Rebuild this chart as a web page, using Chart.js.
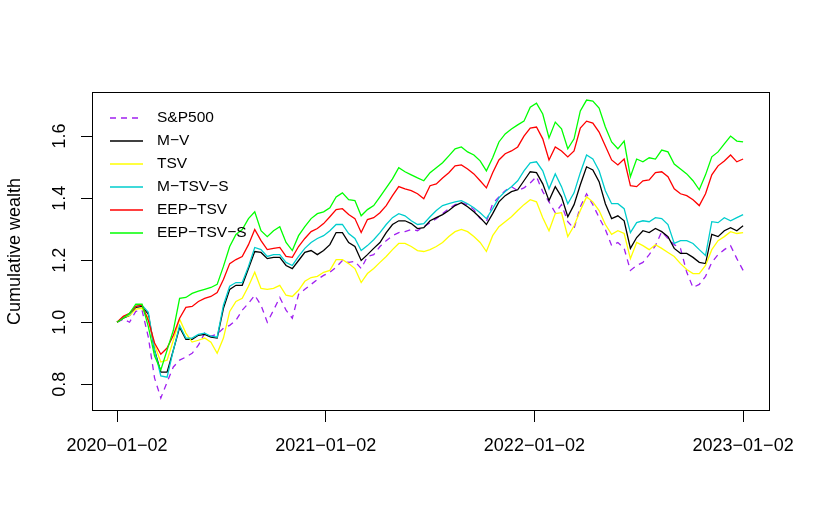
<!DOCTYPE html>
<html>
<head>
<meta charset="utf-8">
<script src="https://cdn.jsdelivr.net/npm/chart.js@4.4.1/dist/chart.umd.min.js"></script>
<style>
  html, body { margin: 0; padding: 0; background: #fff; }
  canvas { display: block; }
</style>
</head>
<body>
<canvas id="wealthChart" width="817" height="526"></canvas>
<script>
// sample times, in years after 2020-01-02
const sampleYears = [
  0.00, 0.03, 0.06, 0.09, 0.12, 0.15, 0.18, 0.21, 0.24, 0.27,
  0.30, 0.33, 0.36, 0.39, 0.42, 0.45, 0.48, 0.51, 0.54, 0.57,
  0.60, 0.63, 0.66, 0.69, 0.72, 0.75, 0.78, 0.81, 0.84, 0.87,
  0.90, 0.93, 0.96, 0.99, 1.02, 1.05, 1.08, 1.11, 1.14, 1.17,
  1.20, 1.23, 1.26, 1.29, 1.32, 1.35, 1.38, 1.41, 1.44, 1.47,
  1.50, 1.53, 1.56, 1.59, 1.62, 1.65, 1.68, 1.71, 1.74, 1.77,
  1.80, 1.83, 1.86, 1.89, 1.92, 1.95, 1.98, 2.01, 2.04, 2.07,
  2.10, 2.13, 2.16, 2.19, 2.22, 2.25, 2.28, 2.31, 2.34, 2.37,
  2.40, 2.43, 2.46, 2.49, 2.52, 2.55, 2.58, 2.61, 2.64, 2.67,
  2.70, 2.73, 2.76, 2.79, 2.82, 2.85, 2.88, 2.91, 2.94, 2.97,
  3.00
];

const sp500 = [
  1.000, 1.010, 1.000, 1.035, 1.039, 0.952, 0.820, 0.756, 0.807, 0.856,
  0.878, 0.888, 0.900, 0.926, 0.965, 0.955, 0.961, 0.981, 0.990, 1.006,
  1.039, 1.061, 1.087, 1.055, 1.000, 1.039, 1.080, 1.039, 1.013, 1.090,
  1.106, 1.122, 1.138, 1.151, 1.161, 1.177, 1.199, 1.193, 1.196, 1.173,
  1.212, 1.218, 1.244, 1.263, 1.279, 1.289, 1.292, 1.299, 1.295, 1.308,
  1.321, 1.334, 1.350, 1.366, 1.379, 1.385, 1.379, 1.363, 1.334, 1.324,
  1.382, 1.404, 1.424, 1.437, 1.424, 1.433, 1.449, 1.469, 1.421, 1.388,
  1.353, 1.379, 1.324, 1.302, 1.372, 1.414, 1.379, 1.337, 1.299, 1.247,
  1.257, 1.238, 1.167, 1.183, 1.193, 1.218, 1.247, 1.292, 1.270, 1.250,
  1.238, 1.161, 1.112, 1.122, 1.148, 1.193, 1.218, 1.234, 1.247, 1.205,
  1.167
];

const mv = [
  1.000, 1.013, 1.022, 1.048, 1.051, 1.026, 0.910, 0.839, 0.839, 0.910,
  0.984, 0.945, 0.945, 0.958, 0.961, 0.952, 0.949, 1.045, 1.106, 1.119,
  1.119, 1.173, 1.228, 1.225, 1.205, 1.209, 1.209, 1.183, 1.173, 1.199,
  1.225, 1.231, 1.218, 1.231, 1.250, 1.289, 1.289, 1.257, 1.244, 1.199,
  1.218, 1.238, 1.257, 1.289, 1.315, 1.327, 1.327, 1.318, 1.302, 1.305,
  1.327, 1.337, 1.347, 1.360, 1.376, 1.385, 1.372, 1.356, 1.337, 1.315,
  1.350, 1.388, 1.408, 1.421, 1.427, 1.456, 1.485, 1.482, 1.446, 1.392,
  1.437, 1.404, 1.340, 1.379, 1.443, 1.501, 1.491, 1.453, 1.382, 1.334,
  1.343, 1.327, 1.238, 1.273, 1.295, 1.289, 1.302, 1.292, 1.276, 1.238,
  1.222, 1.222, 1.209, 1.193, 1.189, 1.283, 1.276, 1.295, 1.305, 1.295,
  1.311
];

const tsv = [
  1.000, 1.016, 1.022, 1.042, 1.045, 1.013, 0.926, 0.872, 0.878, 0.942,
  1.010, 0.965, 0.936, 0.942, 0.949, 0.936, 0.900, 0.949, 1.035, 1.067,
  1.077, 1.116, 1.161, 1.109, 1.106, 1.109, 1.119, 1.087, 1.083, 1.103,
  1.132, 1.144, 1.148, 1.161, 1.167, 1.202, 1.202, 1.189, 1.173, 1.128,
  1.157, 1.173, 1.193, 1.212, 1.234, 1.254, 1.254, 1.244, 1.231, 1.228,
  1.234, 1.244, 1.257, 1.276, 1.292, 1.299, 1.292, 1.276, 1.257, 1.228,
  1.279, 1.308, 1.324, 1.340, 1.360, 1.379, 1.395, 1.388, 1.337, 1.295,
  1.350, 1.353, 1.276, 1.311, 1.360, 1.404, 1.388, 1.360, 1.315, 1.283,
  1.295, 1.286, 1.205, 1.257, 1.247, 1.234, 1.250, 1.238, 1.225, 1.212,
  1.189, 1.170, 1.157, 1.157, 1.183, 1.234, 1.263, 1.276, 1.292, 1.286,
  1.289
];

const mTsvS = [
  1.000, 1.016, 1.026, 1.051, 1.055, 1.032, 0.910, 0.827, 0.823, 0.910,
  0.990, 0.949, 0.949, 0.961, 0.965, 0.955, 0.952, 1.055, 1.116, 1.128,
  1.128, 1.180, 1.241, 1.234, 1.212, 1.218, 1.218, 1.193, 1.183, 1.212,
  1.238, 1.257, 1.270, 1.279, 1.295, 1.315, 1.315, 1.286, 1.270, 1.231,
  1.247, 1.266, 1.289, 1.315, 1.337, 1.350, 1.343, 1.327, 1.315, 1.318,
  1.340, 1.360, 1.376, 1.382, 1.388, 1.392, 1.382, 1.369, 1.353, 1.334,
  1.366, 1.401, 1.421, 1.437, 1.456, 1.488, 1.514, 1.517, 1.488, 1.430,
  1.478, 1.437, 1.382, 1.417, 1.482, 1.539, 1.526, 1.488, 1.424, 1.382,
  1.382, 1.366, 1.289, 1.321, 1.327, 1.324, 1.337, 1.334, 1.315, 1.254,
  1.263, 1.263, 1.254, 1.234, 1.215, 1.324, 1.321, 1.337, 1.327, 1.337,
  1.347
];

const eepTsv = [
  1.000, 1.019, 1.029, 1.051, 1.055, 1.006, 0.933, 0.897, 0.917, 0.958,
  1.013, 1.048, 1.051, 1.067, 1.077, 1.083, 1.096, 1.138, 1.189, 1.202,
  1.212, 1.250, 1.299, 1.263, 1.234, 1.238, 1.241, 1.212, 1.209, 1.244,
  1.270, 1.292, 1.302, 1.318, 1.340, 1.363, 1.366, 1.347, 1.334, 1.289,
  1.331, 1.337, 1.353, 1.376, 1.408, 1.437, 1.430, 1.424, 1.414, 1.398,
  1.440, 1.446, 1.465, 1.482, 1.504, 1.507, 1.494, 1.478, 1.456, 1.433,
  1.482, 1.523, 1.543, 1.552, 1.565, 1.600, 1.626, 1.629, 1.591, 1.523,
  1.565, 1.552, 1.533, 1.552, 1.626, 1.648, 1.642, 1.613, 1.568, 1.523,
  1.507, 1.526, 1.440, 1.437, 1.456, 1.459, 1.482, 1.485, 1.469, 1.430,
  1.414, 1.408, 1.395, 1.376, 1.414, 1.475, 1.504, 1.520, 1.539, 1.517,
  1.526
];

const eepTsvS = [
  1.000, 1.013, 1.029, 1.058, 1.058, 0.987, 0.891, 0.846, 0.910, 0.974,
  1.077, 1.080, 1.093, 1.100, 1.106, 1.112, 1.122, 1.180, 1.244, 1.283,
  1.299, 1.334, 1.356, 1.295, 1.276, 1.295, 1.308, 1.257, 1.231, 1.279,
  1.308, 1.334, 1.350, 1.356, 1.369, 1.404, 1.417, 1.395, 1.392, 1.343,
  1.363, 1.376, 1.404, 1.433, 1.462, 1.498, 1.485, 1.475, 1.465, 1.456,
  1.482, 1.498, 1.514, 1.536, 1.559, 1.565, 1.549, 1.539, 1.520, 1.488,
  1.530, 1.581, 1.607, 1.623, 1.636, 1.648, 1.693, 1.706, 1.671, 1.594,
  1.645, 1.623, 1.559, 1.591, 1.681, 1.716, 1.713, 1.690, 1.629, 1.581,
  1.559, 1.584, 1.469, 1.526, 1.517, 1.530, 1.526, 1.555, 1.549, 1.510,
  1.494, 1.478, 1.456, 1.427, 1.475, 1.533, 1.549, 1.575, 1.600, 1.584,
  1.581
];

const seriesNames = ['S&P500', 'M\u2212V', 'TSV', 'M\u2212TSV\u2212S', 'EEP\u2212TSV', 'EEP\u2212TSV\u2212S'];
const xTickValues = [0, 1, 2, 3];
const xTickLabels = ['2020\u221201\u221202', '2021\u221201\u221202', '2022\u221201\u221202', '2023\u221201\u221202'];
const yTickValues = [0.8, 1.0, 1.2, 1.4, 1.6];
const yTickLabels = ['0.8', '1.0', '1.2', '1.4', '1.6'];

const FONT = '"Liberation Sans", Arial, Helvetica, sans-serif';
const colors = ['#A020F0', '#000000', '#FFFF00', '#00CDCD', '#FF0000', '#00FF00'];
const allSeries = [sp500, mv, tsv, mTsvS, eepTsv, eepTsvS];

const pts = vals => vals.map((v, i) => ({ x: sampleYears[i], y: v }));

const datasets = allSeries.map((vals, i) => ({
  label: seriesNames[i],
  data: pts(vals),
  borderColor: colors[i],
  borderWidth: 1.3,
  borderDash: i === 0 ? [6, 5] : [],
  pointRadius: 0,
  tension: 0,
  fill: false,
  order: allSeries.length - i   // later series drawn on top, like R
}));

// box round the plot, rotated y tick labels and the legend inside the plot
const rStyle = {
  id: 'rStyle',
  afterDatasetsDraw(chart) {
    const { ctx, chartArea: a, scales } = chart;
    ctx.save();
    ctx.strokeStyle = '#000';
    ctx.lineWidth = 1;
    ctx.setLineDash([]);
    ctx.strokeRect(a.left + 0.5, a.top + 0.5, a.right - a.left - 1, a.bottom - a.top - 1);

    ctx.fillStyle = '#000';
    ctx.font = '18px ' + FONT;
    ctx.textAlign = 'center';
    ctx.textBaseline = 'middle';
    scales.y.ticks.forEach((t, i) => {
      ctx.save();
      ctx.translate(a.left - 32, scales.y.getPixelForValue(t.value));
      ctx.rotate(-Math.PI / 2);
      ctx.fillText(yTickLabels[i], 0, 0);
      ctx.restore();
    });

    ctx.font = '15.5px ' + FONT;
    ctx.textAlign = 'left';
    chart.data.datasets.forEach((ds, i) => {
      const ly = a.top + 26 + 23 * i;
      ctx.strokeStyle = ds.borderColor;
      ctx.lineWidth = ds.borderWidth;
      ctx.setLineDash(ds.borderDash);
      ctx.beginPath();
      ctx.moveTo(a.left + 18, ly);
      ctx.lineTo(a.left + 51, ly);
      ctx.stroke();
      ctx.setLineDash([]);
      ctx.fillText(ds.label, a.left + 65, ly);
    });
    ctx.restore();
  }
};

new Chart(document.getElementById('wealthChart'), {
  type: 'line',
  data: { datasets },
  plugins: [rStyle],
  options: {
    responsive: false,
    animation: false,
    events: [],
    layout: { padding: { top: 92, right: 47, left: 0, bottom: 0 } },
    plugins: { legend: { display: false }, tooltip: { enabled: false } },
    scales: {
      x: {
        type: 'linear',
        min: -0.1198,
        max: 3.1289,
        afterBuildTicks: s => { s.ticks = xTickValues.map(v => ({ value: v })); },
        afterFit: s => { s.height = 115; },
        ticks: {
          callback: (v, i) => xTickLabels[i],
          autoSkip: false,
          maxRotation: 0,
          padding: 13,
          color: '#000',
          font: { family: FONT, size: 18 }
        },
        grid: { drawOnChartArea: false, drawTicks: true, tickLength: 11, color: '#000', lineWidth: 1 },
        border: { display: false }
      },
      y: {
        min: 0.714,
        max: 1.742,
        afterBuildTicks: s => { s.ticks = yTickValues.map(v => ({ value: v })); },
        afterFit: s => { s.width = 92; },
        ticks: { display: false },
        grid: { drawOnChartArea: false, drawTicks: true, tickLength: 11, color: '#000', lineWidth: 1 },
        border: { display: false },
        title: {
          display: true,
          text: 'Cumulative wealth',
          color: '#000',
          font: { family: FONT, size: 18 },
          padding: { top: 4, bottom: 0 }
        }
      }
    }
  }
});
</script>
</body>
</html>
